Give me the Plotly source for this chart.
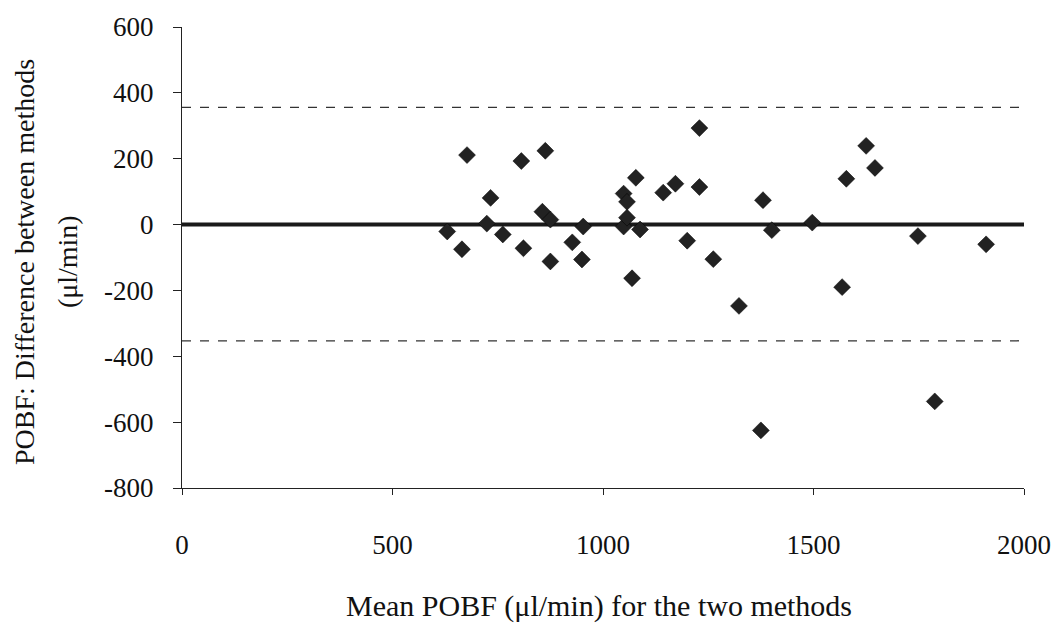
import plotly.graph_objects as go

# Data (mean POBF vs difference, µl/min)
mean_pobf = [630, 665, 677, 724, 733, 762, 806, 811, 856, 863, 875, 875, 927, 950, 953,
             1049, 1049, 1057, 1057, 1069, 1078, 1088, 1143, 1172, 1200, 1229, 1229, 1262,
             1323, 1375, 1380, 1401, 1497, 1568, 1578, 1625, 1646, 1748, 1788, 1910]
diff_pobf = [-21, -75, 211, 3, 81, -30, 193, -72, 39, 224, 15, -112, -54, -106, -6,
             94, -6, 69, 21, -163, 142, -15, 97, 124, -49, 293, 114, -105,
             -247, -625, 74, -17, 6, -190, 139, 239, 172, -35, -537, -60]

mean_line = 0
upper_limit = 356
lower_limit = -353
line_x = [0, 2000]

x_ticks = [0, 500, 1000, 1500, 2000]
y_ticks = [600, 400, 200, 0, -200, -400, -600, -800]

FONT = "Liberation Serif, Times New Roman, serif"

fig = go.Figure()
fig.add_trace(go.Scatter(x=line_x, y=[upper_limit, upper_limit], mode="lines",
                         line=dict(color="#333333", width=1.3, dash="dash"), showlegend=False))
fig.add_trace(go.Scatter(x=line_x, y=[lower_limit, lower_limit], mode="lines",
                         line=dict(color="#333333", width=1.3, dash="dash"), showlegend=False))
fig.add_trace(go.Scatter(x=line_x, y=[mean_line, mean_line], mode="lines",
                         line=dict(color="#1a1a1a", width=4), showlegend=False))
fig.add_trace(go.Scatter(x=mean_pobf, y=diff_pobf, mode="markers",
                         marker=dict(symbol="diamond", size=13, color="#222222",
                                     line=dict(color="#000000", width=0.5)),
                         showlegend=False))

fig.update_layout(
    width=1063, height=623,
    margin=dict(l=182, r=33, t=24, b=135),
    paper_bgcolor="white", plot_bgcolor="white",
    font=dict(family=FONT, color="#111111", size=24),
    xaxis=dict(range=[0, 2000], tickvals=x_ticks, ticktext=[str(v) for v in x_ticks],
               showgrid=False, zeroline=False, showline=True, linecolor="#222222", linewidth=1,
               ticks="outside", ticklen=6, tickcolor="#222222",
               tickfont=dict(family=FONT, size=27, color="#111111"),
               ticklabelstandoff=27),
    yaxis=dict(range=[-800, 600], tickvals=y_ticks, ticktext=[str(v) for v in y_ticks],
               showgrid=False, zeroline=False, showline=True, linecolor="#222222", linewidth=1,
               ticks="outside", ticklen=8, tickcolor="#222222",
               tickfont=dict(family=FONT, size=27, color="#111111"),
               ticklabelstandoff=14),
    annotations=[
        dict(text="Mean POBF (\u03bcl/min) for the two methods", xref="paper", yref="paper",
             x=0.495, y=0, yshift=-118, xanchor="center", yanchor="middle", showarrow=False,
             font=dict(family=FONT, size=30, color="#111111")),
        dict(text="POBF: Difference between methods", xref="paper", yref="paper",
             x=0, y=0.49, xshift=-158, xanchor="center", yanchor="middle", textangle=-90,
             showarrow=False, font=dict(family=FONT, size=28, color="#111111")),
        dict(text="(\u03bcl/min)", xref="paper", yref="paper",
             x=0, y=0.49, xshift=-115, xanchor="center", yanchor="middle", textangle=-90,
             showarrow=False, font=dict(family=FONT, size=28, color="#111111")),
    ],
)

fig.write_html("out.html")
